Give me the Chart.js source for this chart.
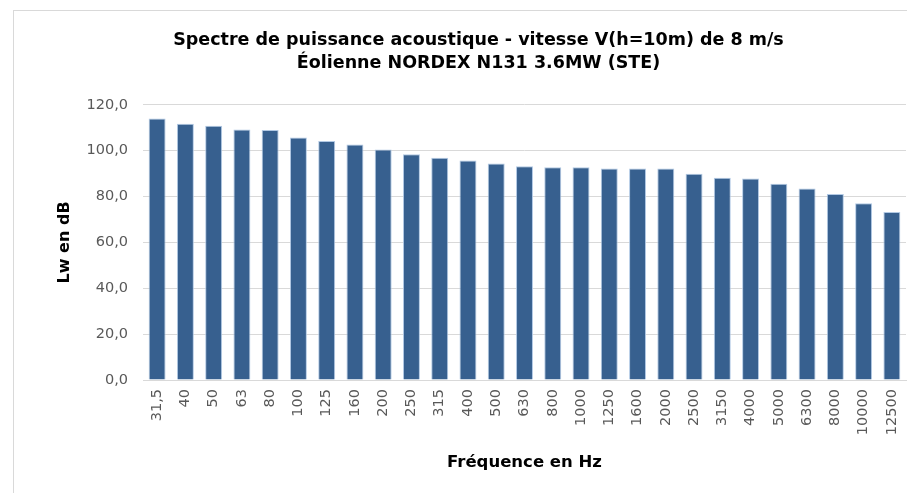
<!DOCTYPE html>
<html><head><meta charset="utf-8">
<script src="https://cdn.jsdelivr.net/npm/chart.js@4/dist/chart.umd.min.js"></script>
<style>
html,body{margin:0;padding:0;background:#fff;overflow:hidden;width:907px;height:493px;}
#box{position:absolute;left:13px;top:10px;width:947px;height:500px;border:1px solid #d9d9d9;box-sizing:border-box;}
#c{display:block;}
</style></head><body>
<div id="box"><canvas id="c" width="945" height="498"></canvas></div>
<script>
const frequencies = ["31,5","40","50","63","80","100","125","160","200","250","315","400","500","630","800","1000","1250","1600","2000","2500","3150","4000","5000","6300","8000","10000","12500"];
const lwValues = [114.0,111.8,110.9,109.2,109.0,105.8,104.2,102.7,100.5,98.5,96.9,95.7,94.4,93.2,92.8,92.8,92.2,92.2,92.2,90.0,88.2,87.9,85.6,83.5,81.1,77.1,73.3];
const titleLines = ["Spectre de puissance acoustique - vitesse V(h=10m) de 8 m/s","Éolienne NORDEX N131 3.6MW (STE)"];
const xTitle = "Fréquence en Hz";
const yTitle = "Lw en dB";
const fontTick = "'DejaVu Sans', sans-serif";
const fontBold = "'DejaVu Sans', sans-serif";

new Chart(document.getElementById('c'), {
  type: 'bar',
  data: {
    labels: frequencies,
    datasets: [{
      data: lwValues,
      backgroundColor: '#37608F',
      borderColor: 'rgba(170,195,225,0.9)',
      borderWidth: 1,
      categoryPercentage: 1.0,
      barPercentage: 0.6
    }]
  },
  options: {
    responsive: false,
    animation: false,
    layout: { padding: { left: 37, right: 53, top: 0, bottom: 0 } },
    plugins: {
      legend: { display: false },
      tooltip: { enabled: false },
      title: {
        display: true,
        text: titleLines,
        color: '#000',
        font: { family: fontBold, size: 17.5, weight: 'bold', lineHeight: 1.31 },
        padding: { top: 18, bottom: 30 }
      }
    },
    scales: {
      x: {
        afterFit: s => { s.height = 129; },
        grid: { display: false, drawTicks: false },
        border: { display: true, color: '#d9d9d9', width: 1 },
        ticks: { color: '#595959', font: { family: fontTick, size: 14.5 }, maxRotation: 90, minRotation: 90, padding: 9, autoSkip: false },
        title: { display: true, text: xTitle, color: '#000', font: { family: fontBold, size: 16.5, weight: 'bold' }, padding: { top: 14, bottom: 36 } }
      },
      y: {
        afterFit: s => { s.width = 92; },
        min: 0, max: 120,
        grid: { color: '#d9d9d9', lineWidth: 1, drawTicks: false },
        border: { display: false },
        ticks: { stepSize: 20, color: '#595959', font: { family: fontTick, size: 14.5 }, padding: 15,
          callback: v => v.toFixed(1).replace('.', ',') },
        title: { display: true, text: yTitle, color: '#000', font: { family: fontBold, size: 16, weight: 'bold' }, padding: 4 }
      }
    }
  }
});
</script>
</body></html>
